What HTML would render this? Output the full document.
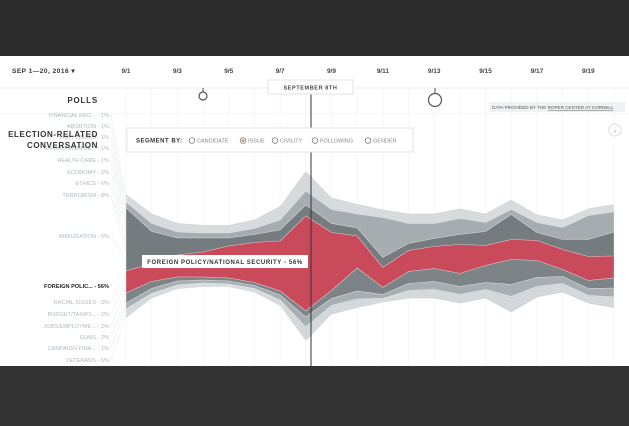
<!DOCTYPE html>
<html><head><meta charset="utf-8"><style>
body{margin:0;width:629px;height:426px;overflow:hidden;background:#fff;font-family:"Liberation Sans",sans-serif}
svg{display:block}
</style></head><body>
<svg id="c" width="629" height="426">
<rect x="0" y="0" width="629" height="56" fill="#2c2c2c"/>
<rect x="0" y="366" width="629" height="60" fill="#333"/>
<line x1="0" y1="88" x2="629" y2="88" stroke="#eceeef"/>
<line x1="0" y1="114" x2="629" y2="114" stroke="#f3f4f5"/>
<g id="grid"></g>
<g id="dates"></g>
<text x="12" y="73" font-size="6.5" font-weight="bold" fill="#333" letter-spacing="0.5">SEP 1—20, 2016 ▾</text>
<text x="98" y="103" font-size="8" font-weight="bold" fill="#333" text-anchor="end" letter-spacing="0.8">POLLS</text>
<g id="stream"></g>
<g id="labels"></g>
<text x="98" y="137" font-size="8" font-weight="bold" fill="#333" text-anchor="end" letter-spacing="0.6">ELECTION-RELATED</text>
<text x="98" y="148" font-size="8" font-weight="bold" fill="#333" text-anchor="end" letter-spacing="0.6">CONVERSATION</text>
<line x1="311" y1="88" x2="311" y2="366" stroke="#333" stroke-width="1"/>
<g>
<rect x="268" y="80" width="85" height="14" fill="#fff" stroke="#e3e3e3"/>
<text x="310.5" y="89.5" font-size="5.5" font-weight="bold" fill="#444" text-anchor="middle" letter-spacing="0.6">SEPTEMBER 8TH</text></g>
<g><line x1="203" y1="88" x2="203" y2="92" stroke="#555"/><circle cx="203" cy="96" r="4" fill="#fff" stroke="#555" stroke-width="1.2"/></g>
<g><line x1="435" y1="88" x2="435" y2="93" stroke="#555"/><circle cx="435" cy="100" r="6.5" fill="#fff" stroke="#555" stroke-width="1.2"/></g>
<g><rect x="489" y="102" width="136" height="10" fill="#f0f1f2"/>
<text x="492" y="109" font-size="4.6" fill="#555">DATA PROVIDED BY THE <tspan text-decoration="underline">ROPER CENTER AT CORNELL</tspan></text></g>
<g><circle cx="615" cy="130" r="6" fill="#fff" stroke="#ddd"/><text x="615" y="132.5" font-size="7" fill="#bbb" text-anchor="middle">⇣</text></g>
<g>
<rect x="127" y="128" width="286" height="24" fill="#fff" stroke="#e6e6e6"/>
<text x="136" y="142.5" font-size="6" font-weight="bold" fill="#333" letter-spacing="0.5">SEGMENT BY:</text>
<g><circle cx="192" cy="140.5" r="2.8" fill="none" stroke="#666" stroke-width="0.7"/><text x="197" y="142.5" font-size="5.5" fill="#888">CANDIDATE</text></g>
<g><circle cx="243" cy="140.5" r="2.8" fill="none" stroke="#666" stroke-width="0.7"/><circle cx="243" cy="140.5" r="1.5" fill="#c8a060"/><text x="248" y="142.5" font-size="5.5" fill="#888">ISSUE</text></g>
<g><circle cx="275" cy="140.5" r="2.8" fill="none" stroke="#666" stroke-width="0.7"/><text x="280" y="142.5" font-size="5.5" fill="#888">CIVILITY</text></g>
<g><circle cx="315" cy="140.5" r="2.8" fill="none" stroke="#666" stroke-width="0.7"/><text x="320" y="142.5" font-size="5.5" fill="#888">FOLLOWING</text></g>
<g><circle cx="368" cy="140.5" r="2.8" fill="none" stroke="#666" stroke-width="0.7"/><text x="373" y="142.5" font-size="5.5" fill="#888">GENDER</text></g>
</g>
<g><rect x="142" y="255" width="166" height="13" fill="#fff"/>
<text x="225" y="264" font-size="6" font-weight="bold" fill="#333" text-anchor="middle" letter-spacing="0.6">FOREIGN POLICY/NATIONAL SECURITY - 56%</text></g>
</svg>
<script>
const days=["9/1","9/2","9/3","9/4","9/5","9/6","9/7","9/8","9/9","9/10","9/11","9/12","9/13","9/14","9/15","9/16","9/17","9/18","9/19","9/20"];
const tickLabels=["9/1","9/3","9/5","9/7","9/9","9/11","9/13","9/15","9/17","9/19"];
const topLight=[8,10,9,8,8,9,14,20,12,10,8,10,10,10,9,10,8,8,7,8];
const terrorism=[6,8,6,5,5,6,10,14,14,14,40,20,15,16,9,5,10,12,24,20];
const immigration=[63,32,17,14,8,8,11,11,9,8,10,7,8,10,14,25,8,10,17,24];
const foreignPolicy=[22,18,22,25,32,40,50,95,58,32,20,21,22,29,20,20,20,20,24,22];
const racial=[10,7,4,3,3,3,4,6,8,23,7,12,13,13,17,25,17,7,8,10];
const budgetJobs=[6,5,4,3,3,3,5,10,7,8,4,7,8,8,7,12,9,7,7,9];
const bottomLight=[9,5,4,4,3,4,6,14,9,9,4,8,9,9,9,16,11,9,8,11];
const layerNames=["top-light","terrorism","immigration","foreign-policy","racial-issues","budget-jobs","bottom-light"];
const layers=[topLight,terrorism,immigration,foreignPolicy,racial,budgetJobs,bottomLight];
const colors=["#d3d8db","#a6adb0","#747c7f","#c94b5b","#7c8487","#a8afb2","#cfd5d8"];
const leftLabels=["FINANCIAL REG... - 1%","ABORTION - 1%","LGBT ISSUES - 1%","ENVIRONMENT/E... - 1%","HEALTH CARE - 1%","ECONOMY - 2%","ETHICS - 6%","TERRORISM - 8%","IMMIGRATION - 5%","FOREIGN POLIC... - 56%","RACIAL ISSUES - 3%","BUDGET/TAXATI... - 2%","JOBS/EMPLOYME... - 2%","GUNS - 2%","CAMPAIGN FINA... - 1%","VETERANS - 5%"];
const ns="http://www.w3.org/2000/svg";
const x0=126,x1=614,center=256,unit=1;
const xs=i=>x0+(x1-x0)*i/(days.length-1);
const ys=v=>center+v*unit;
const grid=document.getElementById('grid'),dates=document.getElementById('dates');
days.forEach((d,i)=>{const l=document.createElementNS(ns,'line');
l.setAttribute('x1',xs(i));l.setAttribute('x2',xs(i));l.setAttribute('y1',88);l.setAttribute('y2',366);l.setAttribute('stroke','#f5f6f7');


grid.appendChild(l);});
tickLabels.forEach(t=>{const i=days.indexOf(t);const e=document.createElementNS(ns,'text');
e.setAttribute('x',xs(i));e.setAttribute('y',73);e.setAttribute('font-size','6.5');e.setAttribute('font-weight','bold');e.setAttribute('fill','#444');e.setAttribute('text-anchor','middle');e.textContent=t;


dates.appendChild(e);});
const totals=days.map((d,i)=>layers.reduce((s,l)=>s+l[i],0));
let base=days.map((d,i)=>-totals[i]/2);
const g=document.getElementById('stream');
layers.forEach((L,k)=>{const top=base.slice();const bot=base.map((b,i)=>b+L[i]);
let dstr=top.map((v,i)=>(i?'L':'M')+xs(i).toFixed(1)+','+ys(v).toFixed(1)).join('');
for(let i=days.length-1;i>=0;i--)dstr+='L'+xs(i).toFixed(1)+','+ys(bot[i]).toFixed(1);
const p=document.createElementNS(ns,'path');p.setAttribute('d',dstr+'Z');p.setAttribute('fill',colors[k]);p.setAttribute('stroke','#fff');p.setAttribute('stroke-opacity','0.45');p.setAttribute('stroke-width','0.6');


g.appendChild(p);
if(k===0||k===6){for(let s=1;s<4;s++){const ln=document.createElementNS(ns,'path');
ln.setAttribute('d',top.map((v,i)=>(i?'L':'M')+xs(i).toFixed(1)+','+ys(v+L[i]*s/4).toFixed(1)).join(''));
ln.setAttribute('fill','none');ln.setAttribute('stroke','#fff');ln.setAttribute('stroke-opacity','0.5');ln.setAttribute('stroke-width','0.4');


g.appendChild(ln);}}
base=bot;});
const lg=document.getElementById('labels');
const labelY=[115,126,137,148,160,172,183,195,236,286,302,314,326,337,348,360];
const t0=-totals[0]/2;
leftLabels.forEach((t,j)=>{const e=document.createElementNS(ns,'text');
e.setAttribute('x',109);e.setAttribute('y',labelY[j]+2);e.setAttribute('font-size','5.6');e.setAttribute('text-anchor','end');
e.setAttribute('fill',j===9?'#222':'#b0b9c0');if(j===9)e.setAttribute('font-weight','bold');e.textContent=t;


lg.appendChild(e);
const ty=ys(t0)+ (totals[0])*(j+0.5)/leftLabels.length;
const l=document.createElementNS(ns,'line');l.setAttribute('x1',111);l.setAttribute('y1',labelY[j]);l.setAttribute('x2',x0);l.setAttribute('y2',ty);l.setAttribute('stroke','#e3e7ea');l.setAttribute('stroke-width','0.5');


lg.appendChild(l);});
</script>
</body></html>
